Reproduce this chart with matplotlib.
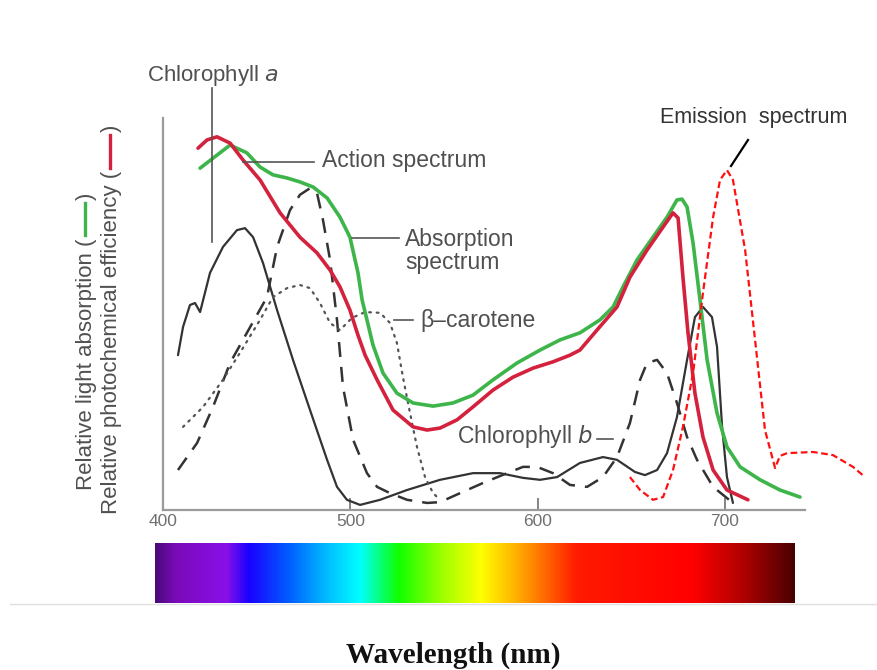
import matplotlib
matplotlib.use("Agg")
import matplotlib.pyplot as plt
import numpy as np
from matplotlib.colors import LinearSegmentedColormap
from matplotlib.lines import Line2D

# ---------------- data (wavelength nm, relative value 0..1) ----------------
abs_x = [419.8, 435.8, 444.8, 451.8, 458.7, 466.2, 473.1, 480.1, 487.6, 494.5, 499.8, 504.1, 506.3, 508.9,
         512.1, 517.5, 524.9, 533.5, 544.2, 554.8, 565.5, 576.2, 589.0, 601.3, 612.0, 622.6, 633.3, 640.3,
         645.6, 653.1, 661.6, 669.1, 674.4, 677.1, 679.8, 683.0, 686.7, 690.5, 695.8, 701.1, 708.1, 718.8,
         729.4, 740.1]
abs_y = [0.872, 0.931, 0.911, 0.875, 0.855, 0.847, 0.837, 0.824, 0.796, 0.747, 0.696, 0.605, 0.536, 0.485,
         0.421, 0.349, 0.298, 0.273, 0.265, 0.273, 0.293, 0.332, 0.375, 0.408, 0.434, 0.452, 0.485, 0.518,
         0.569, 0.638, 0.696, 0.747, 0.791, 0.793, 0.773, 0.681, 0.536, 0.383, 0.247, 0.161, 0.110, 0.077,
         0.051, 0.033]

act_x = [418.7, 423.5, 428.8, 435.8, 442.7, 451.8, 462.5, 473.1, 482.2, 489.2, 494.5, 499.8, 504.1, 507.9,
         514.3, 522.8, 533.5, 541.0, 547.9, 557.0, 565.5, 576.2, 586.9, 597.6, 608.2, 617.3, 622.6, 631.7,
         642.4, 649.3, 658.4, 667.0, 672.3, 675.0, 677.6, 680.3, 684.0, 688.3, 693.7, 701.1, 712.3]
act_y = [0.923, 0.944, 0.952, 0.936, 0.893, 0.842, 0.758, 0.696, 0.656, 0.612, 0.569, 0.510, 0.446, 0.395,
         0.332, 0.255, 0.212, 0.204, 0.209, 0.230, 0.263, 0.306, 0.339, 0.362, 0.378, 0.395, 0.408, 0.459,
         0.518, 0.594, 0.663, 0.722, 0.758, 0.745, 0.594, 0.452, 0.298, 0.186, 0.102, 0.051, 0.026]

chla_x = [408.0, 410.7, 414.4, 417.1, 419.8, 425.1, 432.0, 439.5, 443.8, 448.1, 453.4, 460.9, 469.4, 478.5,
          487.6, 492.9, 498.2, 505.2, 515.9, 530.3, 547.9, 565.5, 579.9, 592.2, 601.3, 610.4, 622.6, 634.9,
          642.4, 652.0, 657.3, 663.8, 669.1, 674.4, 679.8, 684.0, 688.3, 693.1, 695.8, 698.5, 701.1, 704.3]
chla_y = [0.395, 0.467, 0.523, 0.528, 0.505, 0.605, 0.671, 0.714, 0.719, 0.696, 0.630, 0.510, 0.383, 0.255,
          0.128, 0.059, 0.026, 0.013, 0.026, 0.051, 0.077, 0.094, 0.094, 0.082, 0.077, 0.084, 0.120, 0.135,
          0.128, 0.097, 0.089, 0.102, 0.145, 0.237, 0.383, 0.492, 0.518, 0.492, 0.416, 0.212, 0.084, 0.018]

chlb_x = [408.0, 418.2, 426.7, 435.8, 444.8, 455.5, 460.9, 467.8, 473.1, 478.5, 482.2, 485.4, 489.2, 492.9,
          496.1, 501.5, 508.9, 514.3, 521.2, 530.3, 541.0, 547.9, 558.6, 570.9, 583.7, 592.2, 599.7, 608.2,
          617.3, 626.4, 634.9, 642.4, 649.3, 654.7, 658.4, 663.8, 669.1, 674.4, 679.8, 685.1, 693.7, 704.3]
chlb_y = [0.102, 0.171, 0.263, 0.375, 0.452, 0.543, 0.671, 0.765, 0.804, 0.821, 0.809, 0.740, 0.638, 0.485,
          0.314, 0.179, 0.094, 0.059, 0.043, 0.026, 0.018, 0.020, 0.043, 0.069, 0.094, 0.110, 0.110, 0.094,
          0.064, 0.059, 0.084, 0.135, 0.222, 0.332, 0.375, 0.383, 0.349, 0.273, 0.186, 0.128, 0.059, 0.018]

car_x = [410.7, 421.4, 432.0, 441.1, 451.8, 458.7, 466.2, 473.1, 478.5, 483.8, 489.2, 494.5, 500.9, 507.9,
         515.9, 521.2, 524.9, 528.1, 531.9, 535.6, 539.9, 544.2, 547.9]
car_y = [0.212, 0.263, 0.332, 0.401, 0.485, 0.543, 0.566, 0.574, 0.566, 0.528, 0.477, 0.459, 0.490, 0.505,
         0.503, 0.477, 0.426, 0.339, 0.247, 0.161, 0.084, 0.043, 0.026]

emi_x = [649.3, 654.7, 661.6, 667.0, 672.3, 677.6, 683.0, 688.3, 693.7, 697.4, 701.1, 704.3, 710.8, 716.1,
         721.4, 726.8, 729.4, 733.2, 747.1, 757.7, 768.4, 774.8]
emi_y = [0.084, 0.051, 0.026, 0.033, 0.102, 0.212, 0.349, 0.554, 0.747, 0.842, 0.867, 0.842, 0.663, 0.434,
         0.204, 0.107, 0.138, 0.145, 0.148, 0.140, 0.110, 0.084]

x_ticks = [400, 500, 600, 700]

spec_pos = [0.0, 0.03, 0.11, 0.145, 0.21, 0.27, 0.32, 0.38, 0.45, 0.51, 0.565, 0.66, 0.84, 0.92, 1.0]
spec_col = ["#4a0a7a", "#7a0ab8", "#8a10e8", "#1a00ff", "#0060ff", "#00c0ff", "#00ffff",
            "#10ff00", "#a0ff00", "#ffff00", "#ffb000", "#ff1a00", "#ff0000", "#b00000", "#4a0000"]

plt.rcParams['font.family'] = ['Liberation Sans', 'DejaVu Sans']

W, H = 877, 670
fig = plt.figure(figsize=(W / 100, H / 100), dpi=100)
fig.patch.set_facecolor("white")

def fx(px): return px / W
def fy(py): return 1 - py / H

ax = fig.add_axes([fx(163), fy(510), fx(865) - fx(163), fy(118) - fy(510)])
ax.set_xlim(400, 400 + (865 - 163) / 1.873)
ax.set_ylim(0, 1)
ax.set_facecolor("none")

for s in ["top", "right"]:
    ax.spines[s].set_visible(False)
for s in ["left", "bottom"]:
    ax.spines[s].set_color("#9a9a9a")
    ax.spines[s].set_linewidth(1.6)
ax.spines["bottom"].set_bounds(400, 743)
ax.set_yticks([])
ax.set_xticks(x_ticks)
ax.set_xticklabels([str(t) for t in x_ticks], color="#707070", fontsize=12.5)
ax.tick_params(axis="x", direction="in", length=9, width=1.2, color="#707070", pad=3)

txt_col = "#505050"
blk = "#333333"
green = "#3db54a"
red = "#d4213d"

ax.plot(chla_x, chla_y, color=blk, lw=1.6, solid_capstyle="round", solid_joinstyle="round")
ax.plot(chlb_x, chlb_y, color=blk, lw=1.8, linestyle=(0, (6, 4)))
ax.plot(car_x, car_y, color="#555555", lw=1.6, linestyle=(0, (0.8, 2.6)), dash_capstyle="round")
ax.plot(abs_x, abs_y, color=green, lw=2.6, solid_capstyle="round", solid_joinstyle="round")
ax.plot(act_x, act_y, color=red, lw=2.6, solid_capstyle="round", solid_joinstyle="round")
ax.plot(emi_x, emi_y, color="#ff1010", lw=1.6, linestyle=(0, (3, 1.6)), clip_on=False)

def fline(xs, ys, color="#555555", lw=1.2):
    fig.add_artist(Line2D([fx(x) for x in xs], [fy(y) for y in ys], color=color, lw=lw))

fs = 16.5
fig.text(fx(147), fy(75), "Chlorophyll $\\it{a}$", fontsize=16, color=txt_col, ha="left", va="center")
fline([212, 212], [88, 242])
fig.text(fx(322), fy(160), "Action spectrum", fontsize=fs, color=txt_col, ha="left", va="center")
fline([243, 314], [162, 162])
fig.text(fx(405), fy(251), "Absorption\nspectrum", fontsize=fs, color=txt_col, ha="left", va="center",
         linespacing=1.0)
fline([352, 399], [238, 238])
fig.text(fx(420), fy(320), "β–carotene", fontsize=fs, color=txt_col, ha="left", va="center")
fline([394, 413], [320, 320])
fig.text(fx(457), fy(437), "Chlorophyll $\\it{b}$", fontsize=fs, color=txt_col, ha="left", va="center")
fline([597, 613], [439, 439])
fig.text(fx(660), fy(118), "Emission  spectrum", fontsize=15.5, color="#333333", ha="left", va="center")
fline([748, 731], [140, 166], color="black", lw=1.6)

# y label pieces
fig.canvas.draw()
renderer = fig.canvas.get_renderer()

def vlabel(xbase, ystart_px, text, dash_color, fsz):
    t = fig.text(fx(xbase), fy(ystart_px), text + " (", rotation=90, rotation_mode="anchor",
                 ha="left", va="baseline", fontsize=fsz, color=txt_col)
    h = t.get_window_extent(renderer).height
    ytop = ystart_px - h
    d0 = ytop - 3
    d1 = d0 - 33
    fline([xbase - 7, xbase - 7], [d0, d1], color=dash_color, lw=2.4)
    fig.text(fx(xbase), fy(d1 - 3), ")", rotation=90, rotation_mode="anchor",
             ha="left", va="baseline", fontsize=fsz, color=txt_col)

vlabel(92, 490, "Relative light absorption", green, 16)
vlabel(117, 514, "Relative photochemical efficiency", red, 16)

bar = fig.add_axes([fx(155), fy(603), fx(795) - fx(155), fy(543) - fy(603)])
cmap = LinearSegmentedColormap.from_list("spec", list(zip(spec_pos, spec_col)))
grad = np.linspace(0, 1, 512).reshape(1, -1)
bar.imshow(grad, aspect="auto", cmap=cmap, extent=[0, 1, 0, 1])
bar.set_axis_off()

fline([10, 877], [604, 604], color="#e0e0e0", lw=1.0)

fig.text(fx(453), fy(655), "Wavelength (nm)", fontsize=21, fontweight="bold", ha="center", va="center",
         family=["Liberation Serif", "DejaVu Serif"], color="#111111")

fig.savefig("out.png", dpi=100)
